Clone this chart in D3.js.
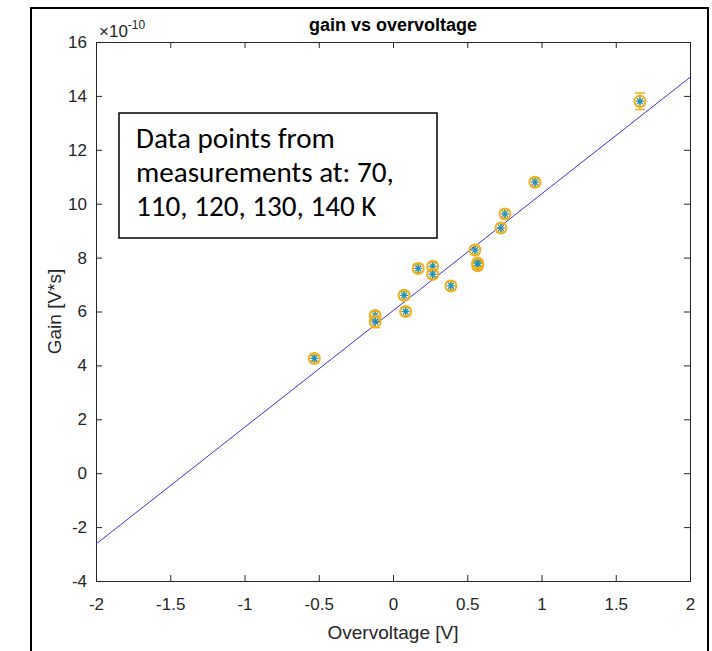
<!DOCTYPE html>
<html><head><meta charset="utf-8">
<script src="https://cdn.jsdelivr.net/npm/d3@7"></script>
<style>body{margin:0;background:#fff}svg{display:block}</style>
</head><body>
<script>
// ---- data ----
const overvoltage = [-0.53, -0.12, -0.12, 0.075, 0.085, 0.17, 0.267, 0.267, 0.39, 0.552, 0.57, 0.57, 0.727, 0.754, 0.956, 1.663];
const gain =        [4.26, 5.85, 5.62, 6.60, 6.00, 7.60, 7.68, 7.38, 6.95, 8.28, 7.70, 7.80, 9.10, 9.62, 10.80, 13.80];
const gainErr =     [0.12, 0.15, 0.22, 0.15, 0.15, 0.15, 0.15, 0.15, 0.15, 0.15, 0.15, 0.15, 0.15, 0.15, 0.15, 0.31];
const fitSlope = 4.33, fitIntercept = 6.03;
const xTicks = [-2, -1.5, -1, -0.5, 0, 0.5, 1, 1.5, 2];
const yTicks = [-4, -2, 0, 2, 4, 6, 8, 10, 12, 14, 16];
const noteLines = ["Data points from", "measurements at: 70,", "110, 120, 130, 140 K"];

const W = 712, H = 651;
const m = {l: 96, r: 690, t: 42, b: 581};
const svg = d3.select("body").append("svg").attr("width", W).attr("height", H);
const x = d3.scaleLinear().domain([-2, 2]).range([m.l, m.r]);
const y = d3.scaleLinear().domain([-4, 16]).range([m.b, m.t]);
const axCol = "#262626";
const fontAx = "'Liberation Sans', Arial, sans-serif";
const fmt = d => String(d);

// outer frame
svg.append("rect").attr("x", 31).attr("y", 8).attr("width", 677).attr("height", 700)
  .attr("fill", "none").attr("stroke", "#000").attr("stroke-width", 2);

// axes
const gx = svg.append("g").attr("transform", `translate(0,${m.b})`)
  .call(d3.axisBottom(x).tickValues(xTicks).tickSize(-6).tickFormat(fmt));
const gxt = svg.append("g").attr("transform", `translate(0,${m.t})`)
  .call(d3.axisTop(x).tickValues(xTicks).tickSize(-6).tickFormat(""));
const gy = svg.append("g").attr("transform", `translate(${m.l},0)`)
  .call(d3.axisLeft(y).tickValues(yTicks).tickSize(-6).tickPadding(9).tickFormat(fmt));
const gyr = svg.append("g").attr("transform", `translate(${m.r},0)`)
  .call(d3.axisRight(y).tickValues(yTicks).tickSize(-6).tickFormat(""));
[gx, gxt, gy, gyr].forEach(g => {
  g.attr("font-size", null).attr("font-family", null);
  g.selectAll("path,line").attr("stroke", axCol).attr("stroke-width", 1);
  g.selectAll("text").attr("fill", axCol).style("font-family", fontAx).style("font-size", "17px");
});
gx.selectAll("text").attr("dy", "0.35em").attr("y", 23);

// exponent
const ex = svg.append("text").attr("x", m.l + 3).attr("y", 37).attr("fill", axCol)
  .style("font-family", fontAx).style("font-size", "17px");
ex.append("tspan").text("\u00d710");
ex.append("tspan").attr("dy", -8).style("font-size", "12px").text("-10");

// title & labels
svg.append("text").attr("x", (m.l + m.r) / 2).attr("y", 31).attr("text-anchor", "middle")
  .style("font-family", fontAx).style("font-size", "18px").style("font-weight", "bold").attr("fill", "#000")
  .text("gain vs overvoltage");
svg.append("text").attr("x", (m.l + m.r) / 2).attr("y", 639).attr("text-anchor", "middle")
  .style("font-family", fontAx).style("font-size", "19px").attr("fill", axCol).text("Overvoltage [V]");
svg.append("text").attr("transform", `translate(54,${(m.t + m.b) / 2}) rotate(-90)`).attr("text-anchor", "middle")
  .attr("dy", "0.35em").style("font-family", fontAx).style("font-size", "19px").attr("fill", axCol).text("Gain [V*s]");

// fit line
svg.append("line").attr("x1", x(-2)).attr("y1", y(fitSlope * -2 + fitIntercept))
  .attr("x2", x(2)).attr("y2", y(fitSlope * 2 + fitIntercept))
  .attr("stroke", "#3a30dc").attr("stroke-width", 1);

// data points
const data = overvoltage.map((v, i) => ({x: v, y: gain[i], e: gainErr[i]}));
const orange = "#EDB120", star = "#1f8fb5";
const pts = svg.append("g").selectAll("g").data(data).join("g")
  .attr("transform", d => `translate(${x(d.x)},${y(d.y)})`);
pts.append("line").attr("x1", 0).attr("x2", 0)
  .attr("y1", d => y(d.y + d.e) - y(d.y)).attr("y2", d => y(d.y - d.e) - y(d.y))
  .attr("stroke", orange).attr("stroke-width", 1.5);
pts.append("line").attr("x1", -5).attr("x2", 5)
  .attr("y1", d => y(d.y + d.e) - y(d.y)).attr("y2", d => y(d.y + d.e) - y(d.y))
  .attr("stroke", orange).attr("stroke-width", 1.5);
pts.append("line").attr("x1", -5).attr("x2", 5)
  .attr("y1", d => y(d.y - d.e) - y(d.y)).attr("y2", d => y(d.y - d.e) - y(d.y))
  .attr("stroke", orange).attr("stroke-width", 1.5);
pts.append("circle").attr("r", 5.5).attr("fill", "none").attr("stroke", orange).attr("stroke-width", 2);
[0, 45, 90, 135].forEach(a => {
  pts.append("line").attr("x1", 0).attr("y1", -4).attr("x2", 0).attr("y2", 4)
    .attr("transform", `rotate(${a})`).attr("stroke", star).attr("stroke-width", 1.3);
});

// note box
const bx = 119, by = 113, bw = 318, bh = 125;
svg.append("rect").attr("x", bx).attr("y", by).attr("width", bw).attr("height", bh)
  .attr("fill", "#fff").attr("stroke", "#000").attr("stroke-width", 1.5);
const noteFont = "Carlito, Calibri, Lato, 'Open Sans', sans-serif";
const nt = svg.append("g");
const tLines = nt.selectAll("text").data(noteLines).join("text")
  .attr("x", 136).attr("y", (d, i) => 148 + i * 34)
  .style("font-family", noteFont).style("font-size", "28px").attr("fill", "#000").text(d => d);
// fit font size so line 2 spans ~258px
const w2 = tLines.nodes()[1].getComputedTextLength();
const fs = 28 * 258 / w2;
tLines.style("font-size", fs + "px");
</script>
</body></html>
